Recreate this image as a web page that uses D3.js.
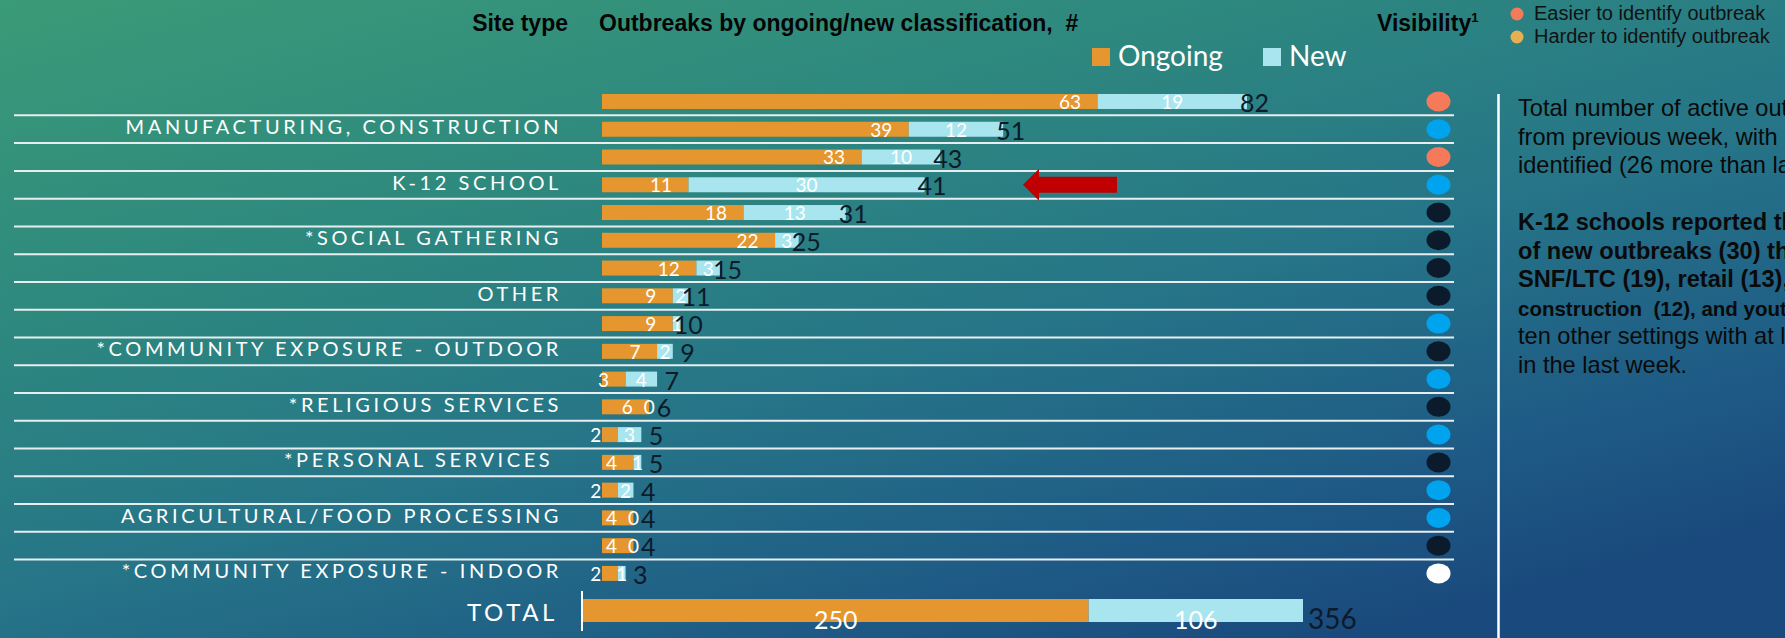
<!DOCTYPE html>
<html>
<head>
<meta charset="utf-8">
<title>Outbreaks by site type</title>
<style>
  body { margin: 0; overflow: hidden; background: #23708a; }
  svg { display: block; }
  .hdr { font-family: "Liberation Sans", Arial, sans-serif; font-weight: bold; font-size: 23px; fill: #050505; }
  .cat { font-family: Lato, sans-serif; font-size: 20px; letter-spacing: 3.6px; fill: #fff; white-space: pre; }
  .seg { font-family: Lato, sans-serif; font-size: 19px; fill: #fff; }
  .tot { font-family: Lato, sans-serif; font-size: 25px; fill: #0c1a2a; }
  .leg { font-family: Lato, sans-serif; font-size: 28px; fill: #fff; }
  .vleg { font-family: "Liberation Sans", Arial, sans-serif; font-size: 20px; fill: #111; }
  .note { font-family: "Liberation Sans", Arial, sans-serif; fill: #0a0a0a; white-space: pre; }
</style>
</head>
<body>
<div id="chart"></div>
<script src="https://d3js.org/d3.v7.min.js"></script>
<script>
var width = 1785;
var height = 638;

// site types (labels only visible on every other row in the original)
var categories = ["", "MANUFACTURING, CONSTRUCTION", "", "K-12 SCHOOL", "", "*SOCIAL GATHERING",
  "", "OTHER", "", "*COMMUNITY EXPOSURE - OUTDOOR", "", "*RELIGIOUS SERVICES", "",
  "*PERSONAL SERVICES ", "", "AGRICULTURAL/FOOD PROCESSING", "", "*COMMUNITY EXPOSURE - INDOOR"];
var ongoing = [63, 39, 33, 11, 18, 22, 12, 9, 9, 7, 3, 6, 2, 4, 2, 4, 4, 2];
var newer   = [19, 12, 10, 30, 13, 3, 3, 2, 1, 2, 4, 0, 3, 1, 2, 0, 0, 1];
var visibility = ["easy", "blue", "easy", "blue", "navy", "navy", "navy", "navy", "blue",
  "navy", "blue", "navy", "blue", "navy", "blue", "blue", "navy", "white"];
var seriesNames = ["Ongoing", "New"];
var visLegend = [["easy", "Easier to identify outbreak"], ["harder", "Harder to identify outbreak"]];

var colors = { ongoing: "#e5962e", neu: "#a9e5ef" };
var visColors = { easy: "#f47a5a", harder: "#e6b052", blue: "#00a3ee", navy: "#0b1b2b", white: "#ffffff" };

var totals = ongoing.map(function(d, i) { return d + newer[i]; });
var sumOngoing = d3.sum(ongoing), sumNew = d3.sum(newer);

var svg = d3.select("#chart").append("svg")
  .attr("width", width)
  .attr("height", height);

// background
var defs = svg.append("defs");
var grad = defs.append("linearGradient").attr("id", "bg")
  .attr("x1", 0).attr("y1", 0).attr("x2", 0.75).attr("y2", 1);
[["0%", "#3a9b77"], ["35%", "#2d877f"], ["60%", "#267588"], ["85%", "#1e5a85"], ["100%", "#1a4a7d"]]
  .forEach(function(s) { grad.append("stop").attr("offset", s[0]).attr("stop-color", s[1]); });
svg.append("rect").attr("width", width).attr("height", height).attr("fill", "url(#bg)");

var x = d3.scaleLinear().domain([0, 82]).range([602, 1247]);
var y = d3.scaleBand().domain(d3.range(categories.length))
  .range([87.6, 587.3]).paddingInner(0.46).paddingOuter(0.23);
var bw = y.bandwidth();

// headers
svg.append("text").attr("class", "hdr").attr("x", 568).attr("y", 31)
  .attr("text-anchor", "end").text("Site type");
svg.append("text").attr("class", "hdr").attr("x", 599).attr("y", 31)
  .style("white-space", "pre")
  .text("Outbreaks by ongoing/new classification,  #");
var vis = svg.append("text").attr("class", "hdr").attr("x", 1377).attr("y", 31).text("Visibility");
vis.append("tspan").style("font-size", "13px").attr("dy", -9).text("1");

// series legend
var legX = [1092, 1263];
seriesNames.forEach(function(n, i) {
  svg.append("rect").attr("x", legX[i]).attr("y", 48).attr("width", 18).attr("height", 18)
    .attr("fill", i === 0 ? colors.ongoing : colors.neu);
  svg.append("text").attr("class", "leg").attr("x", legX[i] + 26).attr("y", 66).text(n);
});

// visibility legend
visLegend.forEach(function(d, i) {
  svg.append("circle").attr("cx", 1517).attr("cy", 14 + i * 23).attr("r", 6.5)
    .attr("fill", visColors[d[0]]);
  svg.append("text").attr("class", "vleg").attr("x", 1534).attr("y", 20 + i * 23).text(d[1]);
});

// separator lines
var seps = d3.range(categories.length - 1);
svg.selectAll("line.sep").data(seps).enter().append("line")
  .attr("class", "sep")
  .attr("x1", 14).attr("x2", 1454)
  .attr("y1", function(i) { return y(i) + bw / 2 + y.step() / 2; })
  .attr("y2", function(i) { return y(i) + bw / 2 + y.step() / 2; })
  .attr("stroke", "#e8eef0").attr("stroke-width", 2);

var rows = svg.selectAll("g.row").data(d3.range(categories.length)).enter()
  .append("g").attr("class", "row");

rows.append("text").attr("class", "cat")
  .attr("x", 562).attr("y", function(i) { return y(i) + bw / 2 + 5; })
  .attr("text-anchor", "end")
  .text(function(i) { return categories[i]; });

rows.append("rect")
  .attr("x", x(0)).attr("y", function(i) { return y(i); })
  .attr("width", function(i) { return x(ongoing[i]) - x(0); })
  .attr("height", bw).attr("fill", colors.ongoing);

rows.append("rect")
  .attr("x", function(i) { return x(ongoing[i]); }).attr("y", function(i) { return y(i); })
  .attr("width", function(i) { return x(totals[i]) - x(ongoing[i]); })
  .attr("height", bw).attr("fill", colors.neu);

rows.append("text").attr("class", "seg")
  .attr("x", function(i) { return x(ongoing[i]) - 16.5; })
  .attr("y", function(i) { return y(i) + bw; })
  .attr("text-anchor", "end")
  .text(function(i) { return ongoing[i]; });

rows.append("text").attr("class", "seg")
  .attr("x", function(i) { return (x(ongoing[i]) + x(totals[i])) / 2; })
  .attr("y", function(i) { return y(i) + bw; })
  .attr("text-anchor", "middle")
  .text(function(i) { return newer[i]; });

rows.append("text").attr("class", "tot")
  .attr("x", function(i) { return x(totals[i]) + 22; })
  .attr("y", function(i) { return y(i) + 18; })
  .attr("text-anchor", "end")
  .text(function(i) { return totals[i]; });

rows.append("ellipse")
  .attr("cx", 1438.5).attr("cy", function(i) { return y(i) + bw / 2; })
  .attr("rx", 12).attr("ry", 10)
  .attr("fill", function(i) { return visColors[visibility[i]]; });

// total row
var xt = d3.scaleLinear().domain([0, sumOngoing + sumNew]).range([583, 1303]);
var tTop = 599, tH = 23;
svg.append("text").attr("class", "cat").style("font-size", "24px").attr("x", 558).attr("y", 621)
  .attr("text-anchor", "end").text("TOTAL");
svg.append("rect").attr("x", xt(0)).attr("y", tTop).attr("width", xt(sumOngoing) - xt(0))
  .attr("height", tH).attr("fill", colors.ongoing);
svg.append("rect").attr("x", xt(sumOngoing)).attr("y", tTop)
  .attr("width", xt(sumOngoing + sumNew) - xt(sumOngoing))
  .attr("height", tH).attr("fill", colors.neu);
svg.append("text").attr("class", "seg").style("font-size", "25px").attr("text-anchor", "middle")
  .attr("x", (xt(0) + xt(sumOngoing)) / 2).attr("y", 629).text(sumOngoing);
svg.append("text").attr("class", "seg").style("font-size", "25px").attr("text-anchor", "middle")
  .attr("x", (xt(sumOngoing) + xt(sumOngoing + sumNew)) / 2).attr("y", 629).text(sumNew);
svg.append("text").attr("class", "tot").style("font-size", "28px")
  .attr("x", xt(sumOngoing + sumNew) + 5).attr("y", 629).text(sumOngoing + sumNew);
svg.append("line").attr("x1", 582).attr("x2", 582).attr("y1", 591).attr("y2", 631)
  .attr("stroke", "#fff").attr("stroke-width", 2);

// red arrow pointing at K-12 row
var ay = y(3) + bw / 2;
svg.append("path")
  .attr("d", "M1023," + ay + " L1039," + (ay - 16) + " L1039," + (ay - 8) + " L1117," + (ay - 8) +
    " L1117," + (ay + 8) + " L1039," + (ay + 8) + " L1039," + (ay + 16) + " Z")
  .attr("fill", "#c00000");

// right panel (text runs past the slide edge, as in the original)
svg.append("line").attr("x1", 1498.5).attr("x2", 1498.5).attr("y1", 94).attr("y2", height)
  .attr("stroke", "#fff").attr("stroke-width", 2.5);

var noteLines = [
  ["Total number of active outbreaks", "normal", 23.6],
  ["from previous week, with", "normal", 23.6],
  ["identified (26 more than last", "normal", 23.6],
  ["", "normal", 23.6],
  ["K-12 schools reported the", "bold", 23.6],
  ["of new outbreaks (30) than", "bold", 23.6],
  ["SNF/LTC (19), retail (13),", "bold", 23.6],
  ["construction  (12), and youth", "bold", 20.5],
  ["ten other settings with at least", "normal", 23.6],
  ["in the last week.", "normal", 23.6]
];
svg.selectAll("text.note").data(noteLines).enter().append("text")
  .attr("class", "note")
  .attr("x", 1518).attr("y", function(d, i) { return 116 + i * 28.5; })
  .style("font-weight", function(d) { return d[1]; })
  .style("font-size", function(d) { return d[2] + "px"; })
  .text(function(d) { return d[0]; });
</script>
</body>
</html>
